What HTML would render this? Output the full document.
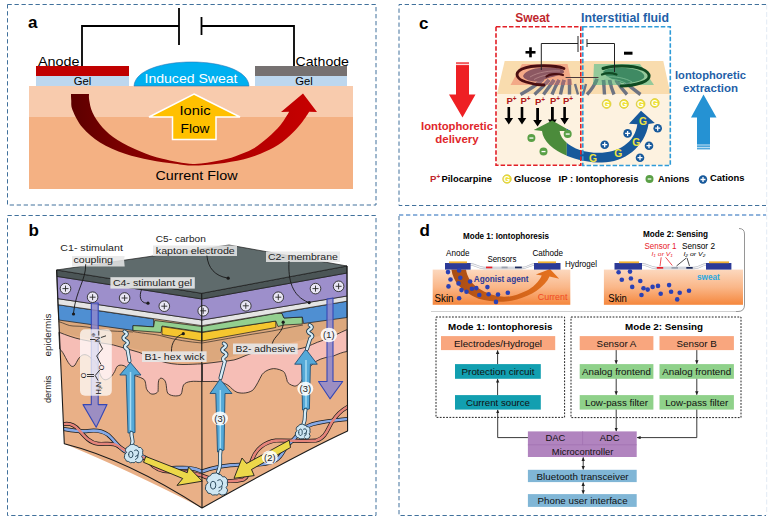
<!DOCTYPE html>
<html><head><meta charset="utf-8">
<style>
html,body{margin:0;padding:0;background:#fff;}
svg{display:block;}
text{font-family:"Liberation Sans",sans-serif;}
.b{font-weight:bold;}
</style></head>
<body>
<svg width="772" height="520" viewBox="0 0 772 520">
<defs>
<linearGradient id="curA" x1="0" y1="0" x2="1" y2="0">
<stop offset="0" stop-color="#5c0000"/><stop offset="0.45" stop-color="#a00000"/><stop offset="1" stop-color="#c80000"/>
</linearGradient>
</defs>
<rect width="772" height="520" fill="#fff"/>
<!-- PANEL BORDERS -->
<g fill="none" stroke="#41719c" stroke-width="1" stroke-dasharray="4.300 2.700">
<path d="M7.500 4.500H376V205H7.500Z"/>
<path d="M7.500 215.500H376V515.500H7.500Z"/>
<path d="M766 4.500H399V205.500H766"/>
<path d="M399 216V515.500H766"/>
</g>
<path d="M399 215H766" fill="none" stroke="#6b9bd1" stroke-width="1.500" stroke-dasharray="4.300 2.700"/>
<path d="M766.700 4.500V515" fill="none" stroke="#d9e3f0" stroke-width="0.800" stroke-dasharray="5 2.500"/>
<!-- PANEL A -->
<g id="pa">
<rect x="29" y="86" width="324" height="31" fill="#f8cbad"/>
<rect x="29" y="117" width="324" height="72" fill="#f4b183"/>
<rect x="36" y="66" width="93" height="10" fill="#c00000"/>
<rect x="36" y="76" width="93" height="10" fill="#bdd7ee"/>
<rect x="255" y="66" width="92" height="10" fill="#767171"/>
<rect x="255" y="76" width="92" height="10" fill="#bdd7ee"/>
<path d="M134 86 C136 54,247 54,249 86Z" fill="#00b0f0" stroke="#2e75b6" stroke-width="0.6"/>
<path d="M82 66V26H179M179 8V45M201.500 17V35M201.500 26H294V66" fill="none" stroke="#000" stroke-width="1.800"/>
<path d="M71.0 94.0C71.0 95.0,71.0 97.3,71.2 100.0C71.5 102.7,70.6 105.4,72.5 110.0C74.4 114.6,77.9 122.1,82.5 127.5C87.1 132.9,92.9 138.1,100.0 142.5C107.1 146.9,116.7 150.8,125.0 153.8C133.3 156.7,141.7 158.3,150.0 160.0C158.3 161.7,167.8 162.8,175.0 163.8C182.2 164.7,185.8 165.6,193.0 165.6C200.2 165.6,209.7 164.8,218.0 163.8C226.3 162.7,235.9 161.2,243.0 159.5C250.1 157.8,254.7 156.2,260.5 153.8C266.3 151.3,272.6 148.5,278.0 145.0C283.4 141.5,288.8 136.5,293.0 132.5C297.2 128.5,300.3 124.5,303.0 121.0C305.7 117.5,308.2 113.3,309.2 111.8L317 112L303 93.500L281 112L289.200 111.800C287.8 114.0,284.0 120.7,280.5 125.0C277.0 129.3,272.6 133.5,268.0 137.5C263.4 141.5,258.4 145.6,253.0 148.8C247.6 151.9,241.3 154.2,235.5 156.2C229.7 158.2,225.1 159.5,218.0 160.8C210.9 162.0,202.2 164.2,193.0 163.9C183.8 163.6,171.3 160.9,162.5 158.8C153.7 156.6,147.5 154.4,140.0 151.2C132.5 148.1,123.8 144.0,117.5 140.0C111.2 136.0,106.7 132.1,102.5 127.5C98.3 122.9,94.7 117.1,92.5 112.5C90.3 107.9,89.8 103.1,89.2 100.0C88.7 96.9,89.0 95.0,89.0 94.0Z" fill="url(#curA)"/>
<path d="M194 94 L240 117 H216 V139.500 H172.500 V117 H149Z" fill="#ffc000" stroke="#fff" stroke-width="1.5"/>
<text x="28" y="28" class="b" font-size="17">a</text>
<text x="38" y="65.800" font-size="13.500" textLength="41.500" lengthAdjust="spacingAndGlyphs">Anode</text>
<text x="295.500" y="65.800" font-size="13.500" textLength="53.500" lengthAdjust="spacingAndGlyphs">Cathode</text>
<text x="82.500" y="85.300" font-size="11.500" text-anchor="middle" textLength="17.500" lengthAdjust="spacingAndGlyphs">Gel</text>
<text x="304" y="85.300" font-size="11.500" text-anchor="middle" textLength="17.500" lengthAdjust="spacingAndGlyphs">Gel</text>
<text x="191" y="82.700" font-size="13.500" fill="#fff" text-anchor="middle" textLength="93" lengthAdjust="spacingAndGlyphs">Induced Sweat</text>
<text x="195" y="114.500" font-size="13" text-anchor="middle" textLength="31" lengthAdjust="spacingAndGlyphs">Ionic</text>
<text x="195" y="133" font-size="13" text-anchor="middle" textLength="29" lengthAdjust="spacingAndGlyphs">Flow</text>
<text x="196.500" y="179.500" font-size="13" text-anchor="middle" textLength="82" lengthAdjust="spacingAndGlyphs">Current Flow</text>
</g>
<!-- PANEL B -->
<g id="pb" stroke-linejoin="round">
<text x="28.500" y="235.700" class="b" font-size="17">b</text>
<!-- skin faces -->
<path d="M57.500 290L202 315L347 290L347.600 431Q300 453 202 508Q126 469 64.300 443.800Z" fill="#e9b087"/>
<!-- tan upper epidermis -->
<path d="M57.900 304L202 326L347 301V329.600L202 363.800L58.900 332.200Z" fill="#dca87d"/>
<path d="M58.600 321.600C64 323,68 326,73 326C82 326,92 327.500,100 329.500C112 332,124 331,133 332" fill="none" stroke="#1a1a1a" stroke-width="0.600"/>
<path d="M202 343C215 341,240 336,260 333C275 331,290 327,303 325" fill="none" stroke="#1a1a1a" stroke-width="0.600"/>
<path d="M133 331.500C145 334,155 334,162 336C175 340,190 342,202 343" fill="none" stroke="#1a1a1a" stroke-width="0.600"/>
<!-- pink band left -->
<path d="M58.900 332.200C66 335,74 338,81.700 339.600C92 342,104 343,113.500 345C122 347,130 350,138.900 352.300C147 355,153 359,160 361C168 363.500,176 364.500,183 364.500C190 364.500,196 364,202.300 363.800V381.500C198 381.500,194 381,190.800 381.500C187 382,185 383,183.500 385C182 388,182.500 392,181 394.500C179 396.500,172 396.500,168.500 394C166 392,167 386,165.500 382C164.500 379,161.500 377.500,160 378.500C157.500 380,158.500 387,158 391.500C156 394.500,152 394.500,150.500 393.600C148 392,147 390,146.300 388.300C145.500 383,145.500 380,143 378.800C140 377,137 376.500,134.700 375.600C130 373,127 366,123 365.400C121 365,119 365,117.700 366C115.500 368,115.500 371,113.500 373.500C111 378,107 380,105 379.800C101 379,100 374,98 368C96 362,94 359,92.300 359.700C88 354,84 354,81.700 355.500C78 358,77 362,75 365C73.500 367,72 366.500,71.200 366C67 363,64 352,59.700 349Z" fill="#f6beb6" stroke="#1a1a1a" stroke-width="0.800"/>
<!-- pink band right -->
<path d="M202.300 363.800C209 363,215 362.500,221.500 361.500C226 361,230 360.800,233.800 360C238 359,242 357,246 355.400C251 353.500,255 352,260 350.800C272 349,286 350.500,297.700 349.200C305 348,311 345,317.300 342.300C320 341.200,322 340.800,324.200 340C332 337,340 332.500,347 329.600V351.500C343 352,338 354,333.500 356C328 357,322 358,317 360.800C310 365,306 372,302 380C299 385,296 386.500,294 386C290 385,288 383,287.300 381.500C286 376,285 372,282.700 371C279 369,274 368,271 369C267 370,264 372,262 374.600C259 380,257 385,253.500 389.500C250 393,242 394,237 392.300C233 390.500,231 387.500,229 386C224 382,216 381,210.800 381.500L202.300 381.500Z" fill="#f6beb6" stroke="#1a1a1a" stroke-width="0.800"/>
<!-- device layers: left face -->
<path d="M57.900 304.700L153.600 319L153.600 326.900L133 325.600V330.400L58.700 320Z" fill="#4f8fd2" stroke="#1a1a1a" stroke-width="0.700"/>
<path d="M133 325.600L153.600 326.900L154.700 320.500L202 326.500V332L162 326L161 332.500L133 330.400Z" fill="#93cf8f" stroke="#1a1a1a" stroke-width="0.700"/>
<path d="M162 326.600L202 332.500V341L162 334.600Z" fill="#f5c62f" stroke="#1a1a1a" stroke-width="0.700"/>
<!-- device layers: right face -->
<path d="M202 332.500L275.800 321V327.500L202 341Z" fill="#f5c62f" stroke="#1a1a1a" stroke-width="0.700"/>
<path d="M202 326.500L276 313.500L282 313.500L284 318L302.300 317V324L284 325L278 326.500L275.800 321L202 332Z" fill="#93cf8f" stroke="#1a1a1a" stroke-width="0.700"/>
<path d="M281.500 312.500L347 301.200V317.500L303.500 323.500L302.300 317L284 318Z" fill="#4f8fd2" stroke="#1a1a1a" stroke-width="0.700"/>
<!-- white membrane -->
<path d="M57.600 298.600L202 320L347 296V301.200L202 325.700L57.900 304.700Z" fill="#e4e4e4" stroke="#1a1a1a" stroke-width="0.700"/>
<!-- purple -->
<path d="M56.900 276.400L202 299L347 273V296L202 320L57.600 298.600Z" fill="#9d8fcb" stroke="#1a1a1a" stroke-width="0.700"/>
<!-- dark side band -->
<path d="M56.600 270L201.700 293.300L347 266V273L202 299L56.900 276.400Z" fill="#4b5556" stroke="#1a1a1a" stroke-width="0.700"/>
<!-- top face -->
<path d="M56.600 270L229 245L347 266L201.700 293.300Z" fill="#5f6b6c" stroke="#1a1a1a" stroke-width="0.700"/>
<!-- purple columns -->
<path d="M91.300 303V404.600H83L96.200 427.200L107 404.600H98.200V303Z" fill="#8e88cc" fill-opacity="0.850" stroke="#3547b5" stroke-width="1.100"/>
<path d="M327 299V381.500H318.500L330 398.800L342.700 381.500H333V298Z" fill="#8e88cc" fill-opacity="0.850" stroke="#3547b5" stroke-width="1.100"/>
<!-- plus circles -->
<g fill="#e9e6f5" stroke="#2a2a2a" stroke-width="0.900"><circle cx="65.5" cy="288.6" r="5.300"/><path d="M62.5 288.6h6M65.5 285.6v6"/><circle cx="92.6" cy="297.2" r="5.300"/><path d="M89.6 297.2h6M92.6 294.2v6"/><circle cx="124.6" cy="298.0" r="5.300"/><path d="M121.6 298.0h6M124.6 295.0v6"/><circle cx="164.3" cy="306.2" r="5.300"/><path d="M161.3 306.2h6M164.3 303.2v6"/><circle cx="203.2" cy="310.8" r="5.300"/><path d="M200.2 310.8h6M203.2 307.8v6"/><circle cx="245.8" cy="305.8" r="5.300"/><path d="M242.8 305.8h6M245.8 302.8v6"/><circle cx="278.3" cy="297.2" r="5.300"/><path d="M275.3 297.2h6M278.3 294.2v6"/><circle cx="315.5" cy="288.6" r="5.300"/><path d="M312.5 288.6h6M315.5 285.6v6"/><circle cx="338.6" cy="286.3" r="5.300"/><path d="M335.6 286.3h6M338.6 283.3v6"/></g>
<!-- molecule box -->
<rect x="80" y="329.300" width="31.800" height="66.400" rx="5" fill="#fff" fill-opacity="0.720"/>
<g stroke="#222" stroke-width="0.900" fill="none">
<path d="M95.200 375.500L98 380.500M95.200 375.500L99.800 370M101 364.500L96.700 356L102.500 348.800L99.300 342.500M95.500 339.500H90M101 337.500L106 335.800M98.800 335.500V330.800"/>
<path d="M94 374.500H87M94 376.500H87"/>
</g>
<g font-size="7" fill="#111" text-anchor="middle">
<text transform="translate(101 388) rotate(-90)">H<tspan font-size="4" dy="1">2</tspan><tspan dy="-1">N</tspan></text>
<text transform="translate(85.500 375.500) rotate(-90)">O</text>
<text transform="translate(103.800 367.500) rotate(-90)">O</text>
<text transform="translate(100.200 339.500) rotate(-90)">N</text>
<text transform="translate(95 335) rotate(-90)" font-size="4.500">⊕</text>
</g>
<!-- vessels -->
<clipPath id="cube"><path d="M56.600 270L64.300 443.800Q126.800 459.500 202 508Q300 453 347.600 431L347 266Z"/></clipPath>
<g fill="none" stroke-linecap="round" clip-path="url(#cube)">
<path id="vr1" d="M62.700 424.200C68 423,74 424,79 430C85 437,90 443,98 443.800C106 444.500,112 442,118 446C124 450,128 453,135 455C142 456,146 458,150 463C156 470,164 472,172 471.500C180 471,190 472,202 475.600C212 480,230 483,243.500 479.600C250 476,249 466,252.900 458C256 450,264 442,275.800 440.600C290 440,305 442,316 440.600C326 438,328 428,332 422C336 416,340 411,347.600 407" stroke="#1a1a1a" stroke-width="4"/>
<path d="M62.700 428.800C70 430,80 432,88 431C95 430,101 430,107.700 434.600C113 439,117 445,123 450C130 455,138 454,144 457C152 462,158 468,170 468C180 468,190 466,202 471.500C212 468,225 465,240 464.800C255 465,268 465,276 460C284 455,283 448,290 443C296 438,300 430,308 426C318 421,332 421,347.600 419" stroke="#1a1a1a" stroke-width="4"/>
<path d="M62.700 428.800C70 430,80 432,88 431C95 430,101 430,107.700 434.600C113 439,117 445,123 450C130 455,138 454,144 457C152 462,158 468,170 468C180 468,190 466,202 471.500C212 468,225 465,240 464.800C255 465,268 465,276 460C284 455,283 448,290 443C296 438,300 430,308 426C318 421,332 421,347.600 419" stroke="#86a9e6" stroke-width="2.600"/>
<path d="M62.700 424.200C68 423,74 424,79 430C85 437,90 443,98 443.800C106 444.500,112 442,118 446C124 450,128 453,135 455C142 456,146 458,150 463C156 470,164 472,172 471.500C180 471,190 472,202 475.600C212 480,230 483,243.500 479.600C250 476,249 466,252.900 458C256 450,264 442,275.800 440.600C290 440,305 442,316 440.600C326 438,328 428,332 422C336 416,340 411,347.600 407" stroke="#e5847a" stroke-width="2.600"/>
</g>
<!-- light blue arrows -->
<g fill="#55a9d8" stroke="#1d5078" stroke-width="0.900">
<path d="M130.400 362.500L141 375H134.700L135 432.500L128 433L126.200 375H119.800Z"/>
<path d="M220 379.200L232 393.500H225L224 450L217.500 452L215.800 393.500H210Z"/>
<path d="M305.800 349.200L317.300 364.200H310.400L309.400 409L302.500 410L301.600 364.200H294.700Z"/>
</g>
<g stroke="#a6dbf3" stroke-width="1.500" fill="none"><path d="M130.500 372V430"/><path d="M220.300 390V448"/><path d="M306 360V407"/></g>
<!-- squiggles and coils -->
<path d="M124.500 331.500c3 1.500,3 3,0.500 4.500c-2.500 1.500,-2 3,1 4.500c2.500 1.500,2.500 3,0 4.500c-2 1.500,-1 3,1.500 4.500L129.500 361" fill="none" stroke="#1d3c50" stroke-width="4.000" stroke-linecap="round" stroke-linejoin="round"/><path d="M124.500 331.500c3 1.500,3 3,0.500 4.500c-2.500 1.500,-2 3,1 4.500c2.500 1.500,2.500 3,0 4.500c-2 1.500,-1 3,1.500 4.500L129.500 361" fill="none" stroke="#d6ecf7" stroke-width="2.400" stroke-linecap="round" stroke-linejoin="round"/><path d="M223.800 343.500c3 1.500,2.500 3,0 4.500c-2.500 1.500,-2 3,1 4.500c2.500 1.500,2 3,-0.500 4.500c-2 1.500,-1.500 3,0.500 4.500L220.500 378" fill="none" stroke="#1d3c50" stroke-width="4.000" stroke-linecap="round" stroke-linejoin="round"/><path d="M223.800 343.500c3 1.500,2.500 3,0 4.500c-2.500 1.500,-2 3,1 4.500c2.500 1.500,2 3,-0.500 4.500c-2 1.500,-1.500 3,0.500 4.500L220.500 378" fill="none" stroke="#d6ecf7" stroke-width="2.400" stroke-linecap="round" stroke-linejoin="round"/><path d="M309.700 325c3 1.500,2.500 3,0 4.500c-2.500 1.500,-2 3,1 4.500c2.500 1.500,2 3,-0.500 4.500L307 349" fill="none" stroke="#1d3c50" stroke-width="4.000" stroke-linecap="round" stroke-linejoin="round"/><path d="M309.700 325c3 1.500,2.500 3,0 4.500c-2.500 1.500,-2 3,1 4.500c2.500 1.500,2 3,-0.500 4.500L307 349" fill="none" stroke="#d6ecf7" stroke-width="2.400" stroke-linecap="round" stroke-linejoin="round"/><path d="M131.500 433C131 438,134 440,132 444" fill="none" stroke="#1d3c50" stroke-width="4.000" stroke-linecap="round" stroke-linejoin="round"/><path d="M131.500 433C131 438,134 440,132 444" fill="none" stroke="#d6ecf7" stroke-width="2.400" stroke-linecap="round" stroke-linejoin="round"/><path d="M220.500 451C219 458,222 464,218 472" fill="none" stroke="#1d3c50" stroke-width="4.000" stroke-linecap="round" stroke-linejoin="round"/><path d="M220.500 451C219 458,222 464,218 472" fill="none" stroke="#d6ecf7" stroke-width="2.400" stroke-linecap="round" stroke-linejoin="round"/><path d="M305.500 410C304 415,306 419,303.500 424" fill="none" stroke="#1d3c50" stroke-width="4.000" stroke-linecap="round" stroke-linejoin="round"/><path d="M305.500 410C304 415,306 419,303.500 424" fill="none" stroke="#d6ecf7" stroke-width="2.400" stroke-linecap="round" stroke-linejoin="round"/>
<path d="M131.6 444.5Q133.6 443.5 135.6 445.5Q137.7 445.2 138.6 447.5Q141.3 447.0 141.6 448.5Q143.6 450.0 142.6 452.5Q143.6 454.7 141.6 456.5Q143.6 458.8 142.6 459.5Q142.4 462.4 139.6 462.5Q138.3 463.5 135.6 461.5Q134.2 463.5 132.6 462.5Q130.1 463.5 128.6 461.5Q125.9 461.8 125.6 459.5Q123.6 458.2 124.6 455.5Q124.2 454.1 126.6 452.5Q124.8 450.6 125.6 449.5Q125.9 447.0 128.6 446.5Q129.5 444.1 131.6 444.5Z" fill="#cfe7f3" stroke="#1d3c50" stroke-width="0.900"/><path d="M128.6 454.5a2.2 3.2 0 1 0 4.4 0a2.2 3.2 0 1 0 -4.4 0M134.6 450.5q3.0 -2.0 4.0 2.0q0.5 3.0 -3.0 4.0M135.6 459.5q3.0 -1.0 2.5 -4.0" fill="none" stroke="#1d3c50" stroke-width="0.900" stroke-linecap="round"/><path d="M214.1 473.2Q216.5 472.0 218.9 474.4Q221.5 474.1 222.5 476.8Q225.7 476.2 226.1 478.0Q228.5 479.8 227.3 482.8Q228.5 485.4 226.1 487.6Q228.5 490.4 227.3 491.2Q227.1 494.6 223.7 494.8Q222.2 496.0 218.9 493.6Q217.2 496.0 215.3 494.8Q212.3 496.0 210.5 493.6Q207.3 493.9 206.9 491.2Q204.5 489.7 205.7 486.4Q205.2 484.7 208.1 482.8Q205.9 480.5 206.9 479.2Q207.3 476.2 210.5 475.6Q211.5 472.7 214.1 473.2Z" fill="#cfe7f3" stroke="#1d3c50" stroke-width="0.900"/><path d="M210.5 485.2a2.6 3.8 0 1 0 5.3 0a2.6 3.8 0 1 0 -5.3 0M217.7 480.4q3.6 -2.4 4.8 2.4q0.6 3.6 -3.6 4.8M218.9 491.2q3.6 -1.2 3.0 -4.8" fill="none" stroke="#1d3c50" stroke-width="0.900" stroke-linecap="round"/><path d="M301.1 424.3Q302.7 423.5 304.3 425.1Q306.0 424.9 306.7 426.7Q308.8 426.3 309.1 427.5Q310.7 428.7 309.9 430.7Q310.7 432.4 309.1 433.9Q310.7 435.7 309.9 436.3Q309.8 438.6 307.5 438.7Q306.5 439.5 304.3 437.9Q303.2 439.5 301.9 438.7Q299.9 439.5 298.7 437.9Q296.6 438.1 296.3 436.3Q294.7 435.3 295.5 433.1Q295.1 432.0 297.1 430.7Q295.6 429.1 296.3 428.3Q296.6 426.3 298.7 425.9Q299.4 423.9 301.1 424.3Z" fill="#cfe7f3" stroke="#1d3c50" stroke-width="0.900"/><path d="M298.7 432.3a1.8 2.6 0 1 0 3.5 0a1.8 2.6 0 1 0 -3.5 0M303.5 429.1q2.4 -1.6 3.2 1.6q0.4 2.4 -2.4 3.2M304.3 436.3q2.4 -0.8 2.0 -3.2" fill="none" stroke="#1d3c50" stroke-width="0.900" stroke-linecap="round"/>
<!-- yellow arrows -->
<g fill="#ecd84a" stroke="#1a1a1a" stroke-width="0.900">
<path d="M145.800 456.500L187.300 472.700L188.500 467L202.300 481.200L177 485.400L182.700 478.500L143.500 462.300Z"/>
<path d="M289.200 440.200L290.500 447.500L251.500 469.500L254.200 475.600L234 478.300L242 458L246.500 463.500Z"/>
</g>
<!-- edges -->
<path d="M56.600 270L64.300 443.800Q126.800 459.500 202 508Q300 453 347.600 431L347 266M201.700 293.300L202 508" fill="none" stroke="#1a1a1a" stroke-width="1.100"/>
<!-- numbered labels -->
<g fill="#fff" fill-opacity="0.880"><ellipse cx="328.800" cy="335" rx="8.300" ry="7.300"/><ellipse cx="305.300" cy="388.700" rx="8" ry="7"/><ellipse cx="220" cy="418.500" rx="8" ry="7"/><ellipse cx="269.800" cy="457.500" rx="8" ry="7"/></g>
<g font-size="9.300" text-anchor="middle" fill="#222"><text x="328.800" y="338.200">(1)</text><text x="305.300" y="392">(3)</text><text x="220" y="421.800">(3)</text><text x="269.800" y="460.800">(2)</text></g>
<!-- text labels -->
<g fill="#e6e6e6" fill-opacity="0.920">
<rect x="110.400" y="277.200" width="84.400" height="11.400"/>
<rect x="142" y="351.300" width="64.600" height="10.700"/>
<rect x="233" y="343.500" width="64.700" height="10.800"/>
<path d="M124 259.500L124.700 256H72v10.500h52.700Z" fill-opacity="0.860"/>
<rect x="153" y="245.500" width="84" height="10.500" fill-opacity="0.860"/>
<rect x="266" y="251.500" width="74" height="10.500" fill-opacity="0.860"/>
</g>
<g font-size="9.300" fill="#222">
<text x="60.300" y="250.500" textLength="62.600" lengthAdjust="spacingAndGlyphs">C1- stimulant</text>
<text x="73.500" y="262.700" textLength="39.500" lengthAdjust="spacingAndGlyphs">coupling</text>
<text x="155.800" y="241.900" textLength="50" lengthAdjust="spacingAndGlyphs">C5- carbon</text>
<text x="155.800" y="253.800" textLength="79" lengthAdjust="spacingAndGlyphs">kapton electrode</text>
<text x="267.900" y="259.500" textLength="70" lengthAdjust="spacingAndGlyphs">C2- membrane</text>
<text x="113" y="285.500" textLength="79.200" lengthAdjust="spacingAndGlyphs">C4- stimulant gel</text>
<text x="144.400" y="359.500" textLength="60.200" lengthAdjust="spacingAndGlyphs">B1- hex wick</text>
<text x="235.500" y="352" textLength="60" lengthAdjust="spacingAndGlyphs">B2- adhesive</text>
<text transform="translate(50.500 356.500) rotate(-90)" textLength="43" lengthAdjust="spacingAndGlyphs">epidermis</text>
<text transform="translate(50.500 403) rotate(-90)" textLength="27.300" lengthAdjust="spacingAndGlyphs">dermis</text>
</g>
<!-- pointers -->
<g fill="none" stroke="#1a1a1a" stroke-width="0.900">
<path d="M85.700 264.200C86 280,76 290,73.500 313"/>
<path d="M141.600 289.400C139 296,140 303,147 303.200"/>
<path d="M206.900 255.600C208 268,215 276,227.500 278"/>
<path d="M289 261C288 280,292 296,308.500 302.400"/>
<path d="M283.200 322.200C284 332,274 336,272.300 343.500"/>
<path d="M183.300 333.700C176 336,171 343,171.500 351.500"/>
</g>
<g fill="#1a1a1a"><circle cx="73.500" cy="314" r="1.600"/><circle cx="148" cy="303.200" r="1.600"/><circle cx="228.200" cy="278.200" r="1.600"/><circle cx="309.200" cy="302.600" r="1.600"/><circle cx="283.200" cy="322.200" r="1.600"/><circle cx="183.300" cy="333.700" r="1.600"/></g>
</g>
<!-- PANEL C -->
<g id="pc">
<text x="419" y="28.500" class="b" font-size="17">c</text>
<text x="532.500" y="22" class="b" font-size="12" fill="#c0272d" text-anchor="middle">Sweat</text>
<text x="625" y="22" class="b" font-size="12" fill="#1f5fa8" text-anchor="middle" textLength="88" lengthAdjust="spacingAndGlyphs">Interstitial fluid</text>
<!-- skin block -->
<path d="M504.700 61H663.300L670.500 94H497Z" fill="#f9dcae"/>
<rect x="497" y="94" width="173.500" height="71" fill="#fdf2e0"/>
<path d="M522 64H567.500L572.500 85H510.500Z" fill="#f3a987"/>
<path d="M594 64H640L654 85H593Z" fill="#93c99a"/>
<!-- fingers -->
<g fill="none" stroke="#6d7382" stroke-width="3.400">
<path d="M543 79Q536 86 520.500 94.500"/><path d="M549 80Q543 87 534.500 94.500"/><path d="M554 80Q549 87 543.500 94.500"/><path d="M559 80Q555 87 552 94.500"/><path d="M564 80Q562 87 560.500 94.500"/><path d="M569.500 79L569.500 94.500"/>
<path d="M597 79Q594 87 587 94.500"/><path d="M603.500 80Q604 87 604.500 94.500"/><path d="M609.500 80Q611 87 614 94.500"/><path d="M616 80Q620 87 627 94.500"/><path d="M622 79Q630 87 640.500 94.500"/>
<path d="M575 84L578 94.500" stroke-width="2.400"/><path d="M586 84L583 94.500" stroke-width="2.400"/>
</g>
<clipPath id="sqL"><path d="M522 64H567.500L572.500 85H510.500Z"/></clipPath>
<clipPath id="sqR"><path d="M594 64H640L654 85H593Z"/></clipPath>
<g fill="none" stroke="#9a6d76" stroke-width="3.400" clip-path="url(#sqL)">
<path d="M543 79Q536 86 520.500 94.500"/><path d="M549 80Q543 87 534.500 94.500"/><path d="M554 80Q549 87 543.500 94.500"/><path d="M559 80Q555 87 552 94.500"/><path d="M564 80Q562 87 560.500 94.500"/><path d="M569.500 79L569.500 94.500"/>
<path d="M597 79Q594 87 587 94.500"/><path d="M603.500 80Q604 87 604.500 94.500"/><path d="M609.500 80Q611 87 614 94.500"/><path d="M616 80Q620 87 627 94.500"/><path d="M622 79Q630 87 640.500 94.500"/>
<path d="M575 84L578 94.500" stroke-width="2.400"/><path d="M586 84L583 94.500" stroke-width="2.400"/>
</g>
<g fill="none" stroke="#5c907c" stroke-width="3.400" clip-path="url(#sqR)">
<path d="M543 79Q536 86 520.500 94.500"/><path d="M549 80Q543 87 534.500 94.500"/><path d="M554 80Q549 87 543.500 94.500"/><path d="M559 80Q555 87 552 94.500"/><path d="M564 80Q562 87 560.500 94.500"/><path d="M569.500 79L569.500 94.500"/>
<path d="M597 79Q594 87 587 94.500"/><path d="M603.500 80Q604 87 604.500 94.500"/><path d="M609.500 80Q611 87 614 94.500"/><path d="M616 80Q620 87 627 94.500"/><path d="M622 79Q630 87 640.500 94.500"/>
<path d="M575 84L578 94.500" stroke-width="2.400"/><path d="M586 84L583 94.500" stroke-width="2.400"/>
</g>
<!-- left electrode -->
<path d="M523 76C525 70,536 67.500,548 67.500C558 67.500,565 69,564 72.500C560 76,548 77,540 81.500C532 82,524 80,523 76Z" fill="#8c5862"/>
<path d="M530 77C538 72,550 70.500,560 71" fill="none" stroke="#b98a8c" stroke-width="0.800"/>
<path d="M534 79.500C542 75,552 73.500,561 74" fill="none" stroke="#b98a8c" stroke-width="0.800"/>
<g fill="none" stroke-linecap="round">
<path d="M564 68.500C556 65,532 64.500,522 69C514 73,516 79,526 82C532 84,538 85,544 85" stroke="#4a0f12" stroke-width="2.800"/>
<path d="M546.500 76.500C550 73.500,558 73.500,563 75" stroke="#4a0f12" stroke-width="2.200"/>
<path d="M566 77.500H598" stroke="#4a3a3a" stroke-width="1.100"/>
</g>
<!-- right electrode -->
<path d="M603 72C606 68,620 67,630 68.500C640 70,646 74,644 78C640 82,630 83,622 83C616 80,606 78,603 72Z" fill="#3f8a63"/>
<path d="M606 77C614 76,626 78,632 82" fill="none" stroke="#7fbf95" stroke-width="0.800"/>
<path d="M604 79.500C612 78.500,620 80,626 83.500" fill="none" stroke="#7fbf95" stroke-width="0.800"/>
<g fill="none" stroke-linecap="round">
<path d="M603 68.500C612 65,632 65,642 69C651 73,652 79,642 82.500C635 85,628 86,621 86" stroke="#0f4a22" stroke-width="3"/>
<path d="M602 74.500C606 73,612 73,616.500 74.500" stroke="#0f4a22" stroke-width="2.200"/>
</g>
<!-- circuit -->
<path d="M541.300 70V43.500H578M578 36V52M587 39V47M587 43.500H614.500V72" fill="none" stroke="#222" stroke-width="1"/>
<rect x="525.500" y="51" width="10" height="2.600" fill="#000"/><rect x="529.200" y="47.300" width="2.600" height="10" fill="#000"/>
<rect x="624" y="51.700" width="8.500" height="3" fill="#000"/>
<!-- P+ labels and arrows -->
<g class="b" font-size="9.500" fill="#b01818">
<text x="506.500" y="104">P<tspan font-size="6.500" dy="-3">+</tspan></text>
<text x="520.500" y="104">P<tspan font-size="6.500" dy="-3">+</tspan></text>
<text x="535" y="105">P<tspan font-size="6.500" dy="-3">+</tspan></text>
<text x="550" y="104">P<tspan font-size="6.500" dy="-3">+</tspan></text>
<text x="563" y="104">P<tspan font-size="6.500" dy="-3">+</tspan></text>
</g>
<g fill="#000">
<path d="M507.500 107h2.600v11h3l-4.300 6.500l-4.300 -6.500h3z"/>
<path d="M520.700 107h2.600v11h3l-4.300 6.500l-4.300 -6.500h3z"/>
<path d="M536.200 108h2.800v12h3l-4.400 6.500l-4.400 -6.500h3z"/>
<path d="M551 107h2.800v12.500h3l-4.400 6.500l-4.400 -6.500h3z"/>
<path d="M563.300 107h2.600v11h3l-4.300 6.500l-4.300 -6.500h3z"/>
</g>
<!-- curved arrows -->
<clipPath id="cg"><rect x="520" y="100" width="46.800" height="70"/></clipPath>
<clipPath id="cb"><rect x="566.800" y="100" width="100" height="70"/></clipPath>
<path id="uarrow" d="M542 131C544 150,575 162.500,602 162.500C624 162.500,645 147,648.500 124L654.800 123L641 110.700L629 123.700L637.300 124.300C635 143,618 152.800,598.800 152.800C578 152.800,561 143,559.600 131L570.600 131L552.200 120.400L533.700 130Z" fill="#4b8b3b" clip-path="url(#cg)"/>
<path d="M542 131C544 150,575 162.500,602 162.500C624 162.500,645 147,648.500 124L654.800 123L641 110.700L629 123.700L637.300 124.300C635 143,618 152.800,598.800 152.800C578 152.800,561 143,559.600 131L570.600 131L552.200 120.400L533.700 130Z" fill="#17599b" clip-path="url(#cb)"/>
<!-- anions -->
<g>
<circle cx="531.400" cy="138" r="4" fill="#5aa046"/><rect x="529.400" y="137.400" width="4" height="1.300" fill="#fff"/>
<circle cx="543.500" cy="151.500" r="4" fill="#5aa046"/><rect x="541.500" y="150.900" width="4" height="1.300" fill="#fff"/>
<circle cx="567.700" cy="134" r="4" fill="#5aa046"/><rect x="565.700" y="133.400" width="4" height="1.300" fill="#fff"/>
</g>
<!-- cations -->
<g id="cat">
<g fill="#17599b"><circle cx="627.600" cy="133.400" r="4.300"/><circle cx="604.700" cy="144.700" r="4.300"/><circle cx="657.700" cy="128.200" r="4.300"/><circle cx="649" cy="145.700" r="4.300"/><circle cx="640" cy="157.700" r="4.300"/></g>
<g stroke="#fff" stroke-width="1.300"><path d="M625.100 133.400h5M627.600 130.900v5"/><path d="M602.200 144.700h5M604.700 142.200v5"/><path d="M655.200 128.200h5M657.700 125.700v5"/><path d="M646.500 145.700h5M649 143.200v5"/><path d="M637.500 157.700h5M640 155.200v5"/></g>
</g>
<!-- G's -->
<g class="b" font-size="8.500" text-anchor="middle">
<g fill="#efe23a" stroke="#cdbd22" stroke-width="0.600"><circle cx="606.600" cy="104" r="4.400"/><circle cx="624" cy="104" r="4.400"/><circle cx="640.600" cy="104" r="4.400"/><circle cx="654.800" cy="103" r="4.400"/></g>
<g fill="#fff"><text x="606.600" y="107.100">G</text><text x="624" y="107.100">G</text><text x="640.600" y="107.100">G</text><text x="654.800" y="106.100">G</text></g>
<g fill="#f0e442" font-size="10.300"><text x="593" y="161.700">G</text><text x="618.300" y="156.500">G</text><text x="636.300" y="145.800">G</text><text x="643" y="125.400">G</text></g>
</g>
<!-- dashed boxes -->
<rect x="496" y="26.700" width="84.800" height="138.500" fill="none" stroke="#e21f26" stroke-width="1.600" stroke-dasharray="4.500 2"/>
<rect x="582.800" y="26.700" width="87.500" height="138.800" fill="none" stroke="#2f9bd8" stroke-width="1.600" stroke-dasharray="4.500 2"/>
<!-- big arrows -->
<defs>
<linearGradient id="redfade" x1="0" y1="0" x2="0" y2="1"><stop offset="0" stop-color="#ee2024" stop-opacity="0.600"/><stop offset="0.080" stop-color="#ee2024"/><stop offset="1" stop-color="#ee2024"/></linearGradient>
<linearGradient id="bluefade" x1="0" y1="1" x2="0" y2="0"><stop offset="0" stop-color="#2592d3" stop-opacity="0.700"/><stop offset="0.060" stop-color="#2592d3"/><stop offset="1" stop-color="#2592d3"/></linearGradient>
</defs>
<path d="M456 62H469V94.500H475.500L462.500 117.500L449 94.500H456Z" fill="url(#redfade)"/>
<path d="M456 64.500H469" stroke="#fff" stroke-width="0.800"/>
<path d="M703.500 94.500L716.500 117.500H710V149.500H697V117.500H691Z" fill="url(#bluefade)"/>
<path d="M697 145H710M697 147.300H710" stroke="#fff" stroke-width="0.800"/>
<g class="b" font-size="11.500" text-anchor="middle">
<text x="457" y="130" fill="#e0262b" textLength="72" lengthAdjust="spacingAndGlyphs">Iontophoretic</text>
<text x="457" y="143" fill="#e0262b">delivery</text>
<text x="710.500" y="79" fill="#1f5fa8" textLength="71" lengthAdjust="spacingAndGlyphs">Iontophoretic</text>
<text x="710.500" y="92" fill="#1f5fa8">extraction</text>
</g>
<!-- legend -->
<g class="b" font-size="9.600">
<text x="430" y="182" fill="#c0272d">P<tspan font-size="6.500" dy="-3">+</tspan></text>
<text x="441.500" y="182" textLength="50.500" lengthAdjust="spacingAndGlyphs">Pilocarpine</text>
<circle cx="507" cy="179" r="4.300" fill="#efe23a" stroke="#c9b91f" stroke-width="0.600"/><text x="507" y="182" font-size="8.200" fill="#fff" text-anchor="middle">G</text>
<text x="514" y="182" textLength="37" lengthAdjust="spacingAndGlyphs">Glucose</text>
<text x="558.500" y="182" textLength="80" lengthAdjust="spacingAndGlyphs">IP : Iontophoresis</text>
<circle cx="649.500" cy="179" r="4" fill="#5aa046"/><rect x="647.700" y="178.400" width="3.600" height="1.200" fill="#fff"/>
<text x="658" y="182" textLength="31.500" lengthAdjust="spacingAndGlyphs">Anions</text>
<circle cx="703" cy="179.500" r="4.200" fill="#17599b"/><path d="M700.500 179.500h5M703 177v5" stroke="#fff" stroke-width="1.300"/>
<text x="710" y="180.500" textLength="34.500" lengthAdjust="spacingAndGlyphs">Cations</text>
</g>
</g>
<!-- PANEL D -->
<g id="pd">
<defs>
<linearGradient id="skinD" x1="0" y1="0" x2="0" y2="1"><stop offset="0" stop-color="#fcd8be"/><stop offset="0.500" stop-color="#fab789"/><stop offset="1" stop-color="#f5873d"/></linearGradient>
<linearGradient id="curD" x1="0" y1="0" x2="1" y2="0"><stop offset="0" stop-color="#a84c14"/><stop offset="0.500" stop-color="#cc5f18"/><stop offset="1" stop-color="#e8741f"/></linearGradient>
<marker id="ah" markerWidth="5" markerHeight="5" refX="3.400" refY="1.700" orient="auto" markerUnits="userSpaceOnUse"><path d="M0 0L3.800 1.700L0 3.400Z" fill="#222"/></marker>
<marker id="ahs" markerWidth="5" markerHeight="5" refX="0.400" refY="1.700" orient="auto" markerUnits="userSpaceOnUse"><path d="M3.800 0L0 1.700L3.800 3.400Z" fill="#222"/></marker>
</defs>
<text x="419.500" y="236" class="b" font-size="17">d</text>
<path d="M431 311.500H736" fill="none" stroke="#c4c4c4" stroke-width="0.800"/><path d="M736 311.500H738Q744.500 311.500 744.500 305V234Q744.500 228.500 739 228.500" fill="none" stroke="#8a8a8a" stroke-width="0.900"/>
<!-- mode1 picture -->
<rect x="432.700" y="269.600" width="137.600" height="35.200" fill="url(#skinD)"/>
<path d="M451.400 269.600C453 282,462 292,478.600 298.700C490 302,504 302.500,511.600 300.700C526 298,540 291,547.500 280.300L549.500 276.400L559.200 278.700L550 269L535.900 274.400L541.700 275.400C539 282,532 288,527 290.500C518 295,510 297,503.800 296.800C492 296,482 291,476.600 287C470 282,467 276,466 269.600Z" fill="url(#curD)"/>
<path d="M470 264.300C476 264.300,478 268,484 268H522C528 268,530 264.300,535 264.300" fill="none" stroke="#b4b8c2" stroke-width="2.400"/><path d="M470 264.300C476 264.300,478 268,484 268H522C528 268,530 264.300,535 264.300" fill="none" stroke="#f4f4f6" stroke-width="1.200"/>
<rect x="445" y="263" width="25.600" height="6.600" fill="#2c3a97"/><rect x="449" y="261.400" width="18" height="1.800" fill="#f2b233"/>
<rect x="534" y="263" width="26.500" height="6.600" fill="#2c3a97"/><rect x="538" y="261.400" width="18" height="1.800" fill="#f2b233"/>
<rect x="486" y="266.600" width="6.300" height="1.700" fill="#e8212a"/><rect x="501.600" y="266.600" width="6" height="1.700" fill="#9aa0ad"/><rect x="515" y="266.600" width="6.800" height="1.700" fill="#1c2a5a"/>
<g fill="#2a41b5"><circle cx="448.0" cy="272.1" r="2.300"/><circle cx="450.5" cy="279.5" r="2.300"/><circle cx="448.5" cy="286.4" r="2.300"/><circle cx="459.1" cy="270.4" r="2.300"/><circle cx="460.3" cy="277.8" r="2.300"/><circle cx="458.6" cy="283.4" r="2.300"/><circle cx="461.5" cy="290.1" r="2.300"/><circle cx="466.5" cy="291.8" r="2.300"/><circle cx="470.1" cy="281.5" r="2.300"/><circle cx="471.9" cy="288.8" r="2.300"/><circle cx="476.3" cy="288.1" r="2.300"/><circle cx="479.3" cy="295.0" r="2.300"/><circle cx="487.4" cy="287.1" r="2.300"/><circle cx="488.6" cy="294.3" r="2.300"/><circle cx="498.0" cy="294.5" r="2.300"/><circle cx="507.8" cy="292.8" r="2.300"/><circle cx="496.0" cy="301.9" r="2.300"/><circle cx="459.1" cy="298.2" r="2.300"/></g>
<text x="506" y="239" class="b" font-size="8.200" text-anchor="middle" textLength="86" lengthAdjust="spacingAndGlyphs">Mode 1: Iontophoresis</text>
<text x="446" y="255.600" font-size="8.400" textLength="23.400" lengthAdjust="spacingAndGlyphs">Anode</text>
<text x="487.400" y="261.800" font-size="8.400" textLength="29" lengthAdjust="spacingAndGlyphs">Sensors</text>
<text x="532.400" y="256.300" font-size="8.400" textLength="30.600" lengthAdjust="spacingAndGlyphs">Cathode</text>
<text x="565" y="267.400" font-size="8.400" textLength="32" lengthAdjust="spacingAndGlyphs">Hydrogel</text>
<text x="434.500" y="302" font-size="10.500" textLength="19" lengthAdjust="spacingAndGlyphs">Skin</text>
<text x="473.800" y="282" font-size="8.600" class="b" fill="#2c3a97" textLength="54.700" lengthAdjust="spacingAndGlyphs">Agonist agent</text>
<text x="537.800" y="300" font-size="9" fill="#f04a23" textLength="29.600" lengthAdjust="spacingAndGlyphs">Current</text>
<!-- mode2 picture -->
<rect x="603.900" y="269.600" width="139.100" height="35.200" fill="url(#skinD)"/>
<path d="M642 264.300C648 264.300,650 268,656 268H694C700 268,702 264.300,706 264.300" fill="none" stroke="#b4b8c2" stroke-width="2.400"/><path d="M642 264.300C648 264.300,650 268,656 268H694C700 268,702 264.300,706 264.300" fill="none" stroke="#f4f4f6" stroke-width="1.200"/>
<rect x="614.500" y="263" width="27.500" height="6.600" fill="#2c3a97"/><rect x="619" y="261.400" width="20" height="1.800" fill="#f2b233"/>
<rect x="706" y="263" width="25.400" height="6.600" fill="#2c3a97"/><rect x="709" y="261.400" width="20" height="1.800" fill="#f2b233"/>
<rect x="656.800" y="267" width="6.400" height="1.700" fill="#e8212a"/><rect x="671.500" y="267" width="6.500" height="1.700" fill="#9aa0ad"/><rect x="686.300" y="267" width="6.400" height="1.700" fill="#1c2a5a"/>
<path d="M661.200 257.300L660 266.200M665.600 257.300L672.300 265.500" stroke="#e8212a" stroke-width="0.800" fill="none"/>
<path d="M686.300 258L676.500 266M687 258L689.500 266" stroke="#222" stroke-width="0.800" fill="none"/>
<g fill="#2a41b5"><circle cx="618.6" cy="272.3" r="2.300"/><circle cx="630.0" cy="271.6" r="2.300"/><circle cx="621.8" cy="279.7" r="2.300"/><circle cx="630.9" cy="278.5" r="2.300"/><circle cx="632.2" cy="286.9" r="2.300"/><circle cx="640.3" cy="281.0" r="2.300"/><circle cx="643.5" cy="288.3" r="2.300"/><circle cx="647.7" cy="289.6" r="2.300"/><circle cx="652.6" cy="286.9" r="2.300"/><circle cx="658.0" cy="285.9" r="2.300"/><circle cx="641.5" cy="295.0" r="2.300"/><circle cx="660.7" cy="293.8" r="2.300"/><circle cx="669.1" cy="285.1" r="2.300"/><circle cx="671.1" cy="291.8" r="2.300"/><circle cx="679.7" cy="292.8" r="2.300"/><circle cx="689.0" cy="290.8" r="2.300"/><circle cx="677.2" cy="299.4" r="2.300"/></g>
<text x="675.500" y="236.700" class="b" font-size="8.200" text-anchor="middle" textLength="65" lengthAdjust="spacingAndGlyphs">Mode 2: Sensing</text>
<text x="644.500" y="248.700" font-size="8.400" fill="#e8212a" textLength="32" lengthAdjust="spacingAndGlyphs">Sensor 1</text>
<text x="682" y="248.700" font-size="8.400" textLength="33" lengthAdjust="spacingAndGlyphs">Sensor 2</text>
<text x="651.400" y="255.600" font-size="5.800" font-style="italic" fill="#e8212a" textLength="21.600" lengthAdjust="spacingAndGlyphs">I<tspan font-size="4" dy="1">1</tspan><tspan dy="-1"> or V</tspan><tspan font-size="4" dy="1">1</tspan></text>
<text x="683.400" y="255.600" font-size="5.800" font-style="italic" textLength="22" lengthAdjust="spacingAndGlyphs">I<tspan font-size="4" dy="1">2</tspan><tspan dy="-1"> or V</tspan><tspan font-size="4" dy="1">2</tspan></text>
<text x="697" y="279.500" font-size="9" class="b" fill="#29a9e0" textLength="22.800" lengthAdjust="spacingAndGlyphs">sweat</text>
<text x="608.300" y="302" font-size="10.500" textLength="18.500" lengthAdjust="spacingAndGlyphs">Skin</text>
<!-- block diagram -->
<g fill="none" stroke="#222" stroke-width="1" stroke-dasharray="1.800 1.400">
<rect x="436" y="317" width="128.600" height="100.400"/>
<rect x="571" y="317" width="170" height="100.600"/>
</g>
<text x="500.200" y="329.800" class="b" font-size="9.800" text-anchor="middle" textLength="104.400" lengthAdjust="spacingAndGlyphs">Mode 1: Iontophoresis</text>
<text x="664" y="329.800" class="b" font-size="9.800" text-anchor="middle" textLength="78" lengthAdjust="spacingAndGlyphs">Mode 2: Sensing</text>
<g fill="#f9a67e">
<rect x="441" y="336.100" width="114.200" height="14"/><rect x="579.700" y="336.100" width="73.700" height="14"/><rect x="659.500" y="336.100" width="74.400" height="14"/>
</g>
<g fill="#129fb0">
<rect x="455" y="364.100" width="85.800" height="14.700"/><rect x="455" y="395.100" width="85.800" height="14.500"/>
</g>
<g fill="#8fd18a">
<rect x="579.700" y="364.100" width="73.700" height="14.700"/><rect x="659.500" y="364.100" width="74.400" height="14.700"/>
<rect x="579.700" y="395.100" width="73.700" height="14.500"/><rect x="659.500" y="395.100" width="74.400" height="14.500"/>
</g>
<rect x="527.900" y="431.400" width="108.800" height="25.600" fill="#b184bf"/>
<path d="M582.600 431.400V444.800M527.900 444.800H636.700" stroke="#a070b0" stroke-width="0.700" fill="none"/>
<rect x="527.900" y="469.800" width="108.800" height="12.300" fill="#80b6d6"/>
<rect x="527.900" y="494.100" width="108.800" height="12.800" fill="#80b6d6"/>
<g font-size="9.800" text-anchor="middle" fill="#111">
<text x="498" y="346.800" textLength="88" lengthAdjust="spacingAndGlyphs">Electrodes/Hydrogel</text>
<text x="498" y="374.700" textLength="73" lengthAdjust="spacingAndGlyphs">Protection circuit</text>
<text x="498" y="405.700" textLength="64" lengthAdjust="spacingAndGlyphs">Current source</text>
<text x="616.500" y="346.800">Sensor A</text>
<text x="696.700" y="346.800">Sensor B</text>
<text x="616.500" y="374.700" textLength="69" lengthAdjust="spacingAndGlyphs">Analog frontend</text>
<text x="696.700" y="374.700" textLength="69" lengthAdjust="spacingAndGlyphs">Analog frontend</text>
<text x="616.500" y="405.700" textLength="63" lengthAdjust="spacingAndGlyphs">Low-pass filter</text>
<text x="696.700" y="405.700" textLength="63" lengthAdjust="spacingAndGlyphs">Low-pass filter</text>
<text x="555.500" y="441.300" font-size="9.400">DAC</text>
<text x="609.700" y="441.300" font-size="9.400">ADC</text>
<text x="582.600" y="455" font-size="9.400">Microcontroller</text>
<text x="582.600" y="479.800" font-size="9.400" textLength="92" lengthAdjust="spacingAndGlyphs">Bluetooth transceiver</text>
<text x="582.600" y="504" font-size="9.400" textLength="90" lengthAdjust="spacingAndGlyphs">Phone user interface</text>
</g>
<g fill="none" stroke="#222" stroke-width="0.900">
<path d="M497.600 364.100V350.500" marker-end="url(#ah)"/>
<path d="M497.600 395.100V379.200" marker-end="url(#ah)"/>
<path d="M527.900 437.600H497.700V410" marker-end="url(#ah)"/>
<path d="M616.200 350.100V363.700" marker-end="url(#ah)"/>
<path d="M696.800 350.100V363.700" marker-end="url(#ah)"/>
<path d="M616.200 378.800V394.700" marker-end="url(#ah)"/>
<path d="M696.800 378.800V394.700" marker-end="url(#ah)"/>
<path d="M616.200 409.600V431" marker-end="url(#ah)"/>
<path d="M696.800 409.600V437.600H637.200" marker-end="url(#ah)"/>
<path d="M583.200 457.500V469.300" marker-end="url(#ah)" marker-start="url(#ahs)"/>
<path d="M583.200 482.600V493.600" marker-end="url(#ah)" marker-start="url(#ahs)"/>
</g>
</g>
</svg>
</body></html>
